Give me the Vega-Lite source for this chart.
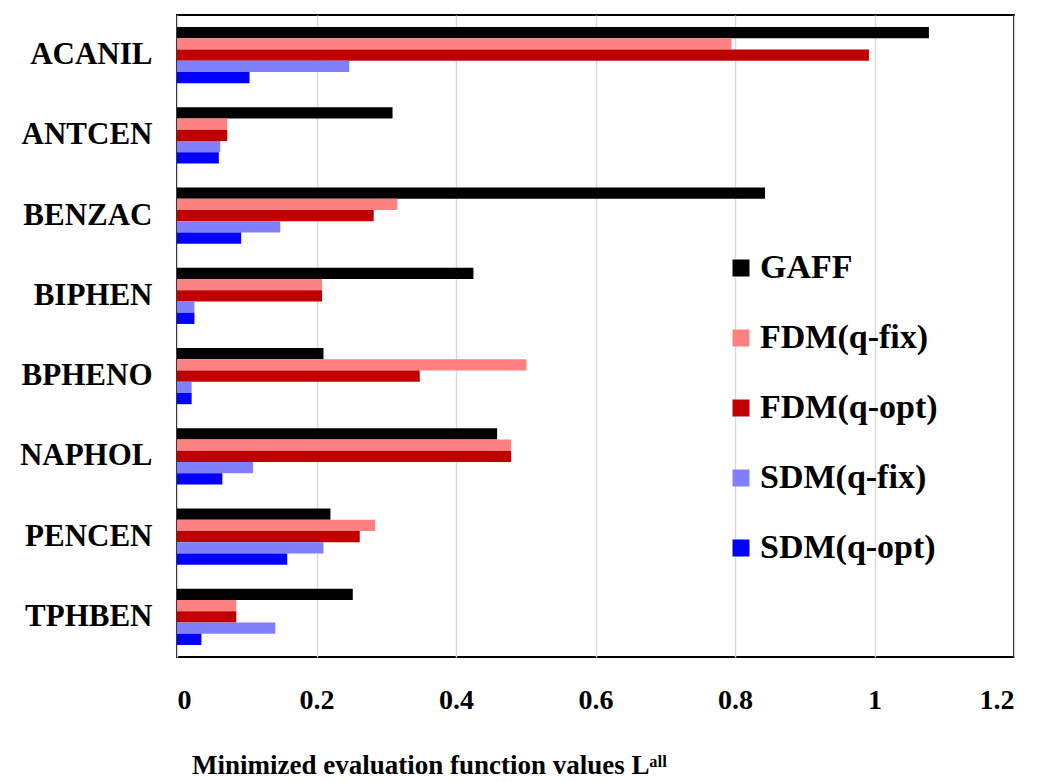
{
  "$schema": "https://vega.github.io/schema/vega-lite/v6.json",
  "width": 837,
  "height": 642,
  "autosize": {"type": "none"},
  "padding": {"left": 177, "top": 15, "right": 25, "bottom": 125},
  "background": "white",
  "config": {
    "font": "Liberation Serif",
    "view": {"stroke": "black", "strokeWidth": 2}
  },
  "data": {
    "values": [
      {"molecule": "ACANIL", "method": "GAFF", "value": 1.078},
      {"molecule": "ACANIL", "method": "FDM(q-fix)", "value": 0.795},
      {"molecule": "ACANIL", "method": "FDM(q-opt)", "value": 0.992},
      {"molecule": "ACANIL", "method": "SDM(q-fix)", "value": 0.247},
      {"molecule": "ACANIL", "method": "SDM(q-opt)", "value": 0.104},
      {"molecule": "ANTCEN", "method": "GAFF", "value": 0.309},
      {"molecule": "ANTCEN", "method": "FDM(q-fix)", "value": 0.072},
      {"molecule": "ANTCEN", "method": "FDM(q-opt)", "value": 0.072},
      {"molecule": "ANTCEN", "method": "SDM(q-fix)", "value": 0.062},
      {"molecule": "ANTCEN", "method": "SDM(q-opt)", "value": 0.060},
      {"molecule": "BENZAC", "method": "GAFF", "value": 0.843},
      {"molecule": "BENZAC", "method": "FDM(q-fix)", "value": 0.316},
      {"molecule": "BENZAC", "method": "FDM(q-opt)", "value": 0.282},
      {"molecule": "BENZAC", "method": "SDM(q-fix)", "value": 0.148},
      {"molecule": "BENZAC", "method": "SDM(q-opt)", "value": 0.092},
      {"molecule": "BIPHEN", "method": "GAFF", "value": 0.425},
      {"molecule": "BIPHEN", "method": "FDM(q-fix)", "value": 0.208},
      {"molecule": "BIPHEN", "method": "FDM(q-opt)", "value": 0.208},
      {"molecule": "BIPHEN", "method": "SDM(q-fix)", "value": 0.025},
      {"molecule": "BIPHEN", "method": "SDM(q-opt)", "value": 0.025},
      {"molecule": "BPHENO", "method": "GAFF", "value": 0.210},
      {"molecule": "BPHENO", "method": "FDM(q-fix)", "value": 0.501},
      {"molecule": "BPHENO", "method": "FDM(q-opt)", "value": 0.348},
      {"molecule": "BPHENO", "method": "SDM(q-fix)", "value": 0.021},
      {"molecule": "BPHENO", "method": "SDM(q-opt)", "value": 0.021},
      {"molecule": "NAPHOL", "method": "GAFF", "value": 0.459},
      {"molecule": "NAPHOL", "method": "FDM(q-fix)", "value": 0.479},
      {"molecule": "NAPHOL", "method": "FDM(q-opt)", "value": 0.479},
      {"molecule": "NAPHOL", "method": "SDM(q-fix)", "value": 0.109},
      {"molecule": "NAPHOL", "method": "SDM(q-opt)", "value": 0.065},
      {"molecule": "PENCEN", "method": "GAFF", "value": 0.220},
      {"molecule": "PENCEN", "method": "FDM(q-fix)", "value": 0.284},
      {"molecule": "PENCEN", "method": "FDM(q-opt)", "value": 0.262},
      {"molecule": "PENCEN", "method": "SDM(q-fix)", "value": 0.210},
      {"molecule": "PENCEN", "method": "SDM(q-opt)", "value": 0.158},
      {"molecule": "TPHBEN", "method": "GAFF", "value": 0.252},
      {"molecule": "TPHBEN", "method": "FDM(q-fix)", "value": 0.085},
      {"molecule": "TPHBEN", "method": "FDM(q-opt)", "value": 0.085},
      {"molecule": "TPHBEN", "method": "SDM(q-fix)", "value": 0.141},
      {"molecule": "TPHBEN", "method": "SDM(q-opt)", "value": 0.035}
    ]
  },
  "mark": {"type": "bar"},
  "encoding": {
    "y": {
      "field": "molecule",
      "type": "nominal",
      "sort": ["ACANIL", "ANTCEN", "BENZAC", "BIPHEN", "BPHENO", "NAPHOL", "PENCEN", "TPHBEN"],
      "scale": {"paddingInner": 0.3, "paddingOuter": 0.15},
      "axis": {
        "title": null,
        "ticks": false,
        "domain": false,
        "labelFont": "Liberation Serif",
        "labelFontWeight": "bold",
        "labelFontSize": 31,
        "labelColor": "black",
        "labelPadding": 25
      }
    },
    "yOffset": {
      "field": "method",
      "type": "nominal",
      "sort": ["GAFF", "FDM(q-fix)", "FDM(q-opt)", "SDM(q-fix)", "SDM(q-opt)"],
      "scale": {"paddingInner": 0, "paddingOuter": 0}
    },
    "x": {
      "field": "value",
      "type": "quantitative",
      "scale": {"domain": [0, 1.2], "nice": false},
      "axis": {
        "values": [0, 0.2, 0.4, 0.6, 0.8, 1, 1.2],
        "format": "~g",
        "title": "Minimized evaluation function values Lᵃˡˡ",
        "titleFont": "Liberation Serif",
        "titleFontWeight": "bold",
        "titleFontSize": 27,
        "titleColor": "black",
        "titleAnchor": null,
        "titleX": 252,
        "titleAlign": "center",
        "titlePadding": 38,
        "ticks": false,
        "domain": false,
        "grid": true,
        "gridColor": "#d9d9d9",
        "gridWidth": 1.5,
        "labelFont": "Liberation Serif",
        "labelFontWeight": "bold",
        "labelFontSize": 28,
        "labelColor": "black",
        "labelPadding": 29
      }
    },
    "color": {
      "field": "method",
      "type": "nominal",
      "sort": ["GAFF", "FDM(q-fix)", "FDM(q-opt)", "SDM(q-fix)", "SDM(q-opt)"],
      "scale": {
        "domain": ["GAFF", "FDM(q-fix)", "FDM(q-opt)", "SDM(q-fix)", "SDM(q-opt)"],
        "range": ["#000000", "#FF8080", "#C00000", "#8080FF", "#0000FF"]
      },
      "legend": {
        "title": null,
        "orient": "none",
        "legendX": 547,
        "legendY": 236,
        "symbolType": "square",
        "symbolSize": 289,
        "symbolStrokeWidth": 0,
        "symbolOpacity": 1,
        "labelFont": "Liberation Serif",
        "labelFontWeight": "bold",
        "labelFontSize": 34,
        "labelColor": "black",
        "labelOffset": 2,
        "rowPadding": 36,
        "labelLimit": 400
      }
    }
  }
}
